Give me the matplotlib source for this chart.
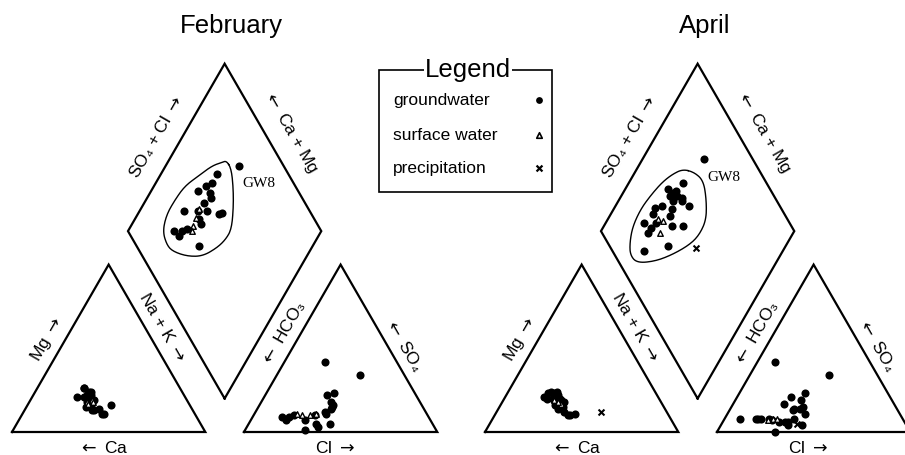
import numpy as np
import matplotlib.pyplot as plt
from matplotlib.patches import Rectangle

plt.rcParams['font.family'] = ['Liberation Sans', 'DejaVu Sans']
plt.rcParams['mathtext.fontset'] = 'dejavusans'

# Piper layout (unit triangle side = 1, drawn in pixel-like data coords)
R3 = np.sqrt(3) / 2
GAP = 0.2
SCALE = 193.3
BASE_Y = 432
ORIGIN_FEB = 12
ORIGIN_APR = 485

# ---- data, percent of meq ----
# February groundwater (first sample is GW8)
feb_gw_nak = [38, 29, 29, 27, 24, 31, 33, 31, 35, 23, 30, 42, 43, 36, 30, 28, 24, 28, 41, 33]
feb_gw_mg = [14, 24, 20, 21, 26, 17, 19, 15, 13, 21, 18, 11, 16, 13, 22, 24, 26, 22, 11, 16]
feb_gw_cl = [43, 21, 35, 32, 36, 36, 38, 37, 42, 28, 32, 38, 38, 37, 21, 19, 15, 18, 31, 35]
feb_gw_so4 = [34, 42, 23, 22, 12, 18, 15, 11, 5, 7, 10, 14, 16, 3, 10, 9, 9, 7, 1, 5]

feb_sw_nak = [30, 32, 31, 33]
feb_sw_mg = [18, 19, 17, 18]
feb_sw_cl = [32, 25, 29, 22]
feb_sw_so4 = [11, 10, 10, 11]

# April groundwater (first sample is GW8)
apr_gw_nak = [32, 28, 22, 29, 25, 28, 33, 38, 24, 21, 30, 22, 31, 20, 35, 41, 25, 25, 28, 39, 26, 32, 26, 27]
apr_gw_mg = [15, 19, 24, 20, 21, 16, 15, 10, 23, 23, 19, 20, 14, 21, 12, 11, 24, 20, 17, 10, 21, 18, 19, 22]
apr_gw_cl = [41, 34, 33, 36, 42, 33, 40, 34, 35, 29, 26, 25, 34, 17, 32, 36, 19, 16, 8, 30, 28, 37, 23, 9]
apr_gw_so4 = [34, 23, 14, 14, 4, 13, 11, 19, 4, 6, 17, 7, 6, 8, 6, 8, 8, 8, 8, 0, 21, 15, 8, 42]

apr_sw_nak = [26, 31, 29]
apr_sw_mg = [19, 17, 18]
apr_sw_cl = [25, 23, 27]
apr_sw_so4 = [8, 7, 8]

apr_pr_nak = [54]
apr_pr_mg = [12]
apr_pr_cl = [39]
apr_pr_so4 = [5]

# hand-drawn groundwater envelopes in the diamond: (Na+K %, SO4+Cl %)
feb_env_nak = [30, 35, 42, 48, 53, 53, 51, 46, 38, 29, 24, 18, 15, 15, 16, 20, 24, 28]
feb_env_scl = [72, 72, 67, 61, 54, 48, 41, 31, 23, 17, 16, 18, 25, 34, 43, 53, 63, 69]
apr_env_nak = [24, 31, 38, 45, 51, 52, 50, 44, 37, 28, 22, 18, 15, 14, 15, 17, 20]
apr_env_scl = [61, 66, 68, 64, 58, 50, 42, 30, 19, 9, 8, 12, 18, 27, 36, 46, 54]


def to_px(x, y, x0):
    return x0 + SCALE * np.asarray(x, float), BASE_Y - SCALE * np.asarray(y, float)


def cation_xy(nak, mg):
    nak, mg = np.asarray(nak) / 100, np.asarray(mg) / 100
    return nak + mg / 2, mg * R3


def anion_xy(cl, so4):
    cl, so4 = np.asarray(cl) / 100, np.asarray(so4) / 100
    return 1 + GAP + cl + so4 / 2, so4 * R3


def diamond_xy(nak, scl):
    a, b = np.asarray(nak) / 100, np.asarray(scl) / 100
    return 0.5 + GAP / 2 + (a + b) / 2, (1 + GAP) * R3 + (b - a) * R3


def chaikin(x, y, n=3):
    pts = np.column_stack([x, y])
    for _ in range(n):
        nxt = np.roll(pts, -1, axis=0)
        q = 0.75 * pts + 0.25 * nxt
        r = 0.25 * pts + 0.75 * nxt
        pts = np.empty((2 * len(q), 2))
        pts[0::2], pts[1::2] = q, r
    pts = np.vstack([pts, pts[:1]])
    return pts[:, 0], pts[:, 1]


def all_xy(nak, mg, cl, so4):
    scl = np.asarray(cl) + np.asarray(so4)
    return [cation_xy(nak, mg), anion_xy(cl, so4), diamond_xy(nak, scl)]


OUTLINES = [
    [(0, 0), (1, 0), (0.5, R3), (0, 0)],
    [(1 + GAP, 0), (2 + GAP, 0), (1.5 + GAP, R3), (1 + GAP, 0)],
    [(1 + GAP / 2, GAP * R3), (1.5 + GAP / 2, (1 + GAP) * R3),
     (1 + GAP / 2, (2 + GAP) * R3), (0.5 + GAP / 2, (1 + GAP) * R3),
     (1 + GAP / 2, GAP * R3)],
]

RA = r"$\rightarrow$"
LA = r"$\leftarrow$"
LABELS = [
    ("SO₄ + Cl " + RA, 0.744, 1.526, 60),
    (LA + " Ca + Mg", 1.441, 1.552, -60),
    ("Na + K " + RA, 0.780, 0.545, -60),
    (LA + " HCO₃", 1.400, 0.509, 60),
    ("Mg " + RA, 0.181, 0.478, 60),
    (LA + " SO₄", 2.030, 0.452, -60),
    (LA + " Ca", 0.470, -0.083, 0),
    ("Cl " + RA, 1.674, -0.083, 0),
]

DOT = dict(marker='o', s=34, color='black', linewidths=0, zorder=3)
TRI = dict(marker='^', s=16, facecolors='white', edgecolors='black', linewidths=1.0, zorder=4)
CROSS = dict(marker='x', s=18, color='black', linewidths=1.5, zorder=4)


def draw_piper(ax, x0, title, gw, sw, env, pr=None):
    for outline in OUTLINES:
        xs, ys = zip(*outline)
        px, py = to_px(xs, ys, x0)
        ax.plot(px, py, color='black', lw=1.6, solid_joinstyle='miter', zorder=2)

    for text, lx, ly, rot in LABELS:
        px, py = to_px(lx, ly, x0)
        ax.text(px, py, text, rotation=rot, ha='center', va='center',
                fontsize=12.5, rotation_mode='anchor')

    tx, ty = to_px(1.1 + GAP / 2 - 0.065, 2.10, x0)
    ax.text(tx, ty, title, ha='center', va='center', fontsize=18.5)

    ex, ey = diamond_xy(*env)
    ex, ey = chaikin(ex, ey)
    ax.plot(*to_px(ex, ey, x0), color='black', lw=1.0, zorder=2)

    for x, y in all_xy(*gw):
        ax.scatter(*to_px(x, y, x0), **DOT)
    for x, y in all_xy(*sw):
        ax.scatter(*to_px(x, y, x0), **TRI)
    if pr is not None:
        for x, y in all_xy(*pr):
            ax.scatter(*to_px(x, y, x0), **CROSS)

    # GW8 label
    gx, gy = diamond_xy(gw[0][0], gw[2][0] + gw[3][0])
    ax.annotate("GW8", to_px(gx, gy, x0), xytext=(14, -13), textcoords='offset points',
                ha='center', va='center', fontsize=11, family='Liberation Serif')


fig = plt.figure(figsize=(9.05, 4.55), dpi=100)
ax = fig.add_axes([0, 0, 1, 1])
ax.set_xlim(0, 905)
ax.set_ylim(455, 0)
ax.axis('off')

draw_piper(ax, ORIGIN_FEB, "February",
           (feb_gw_nak, feb_gw_mg, feb_gw_cl, feb_gw_so4),
           (feb_sw_nak, feb_sw_mg, feb_sw_cl, feb_sw_so4),
           (feb_env_nak, feb_env_scl))
draw_piper(ax, ORIGIN_APR, "April",
           (apr_gw_nak, apr_gw_mg, apr_gw_cl, apr_gw_so4),
           (apr_sw_nak, apr_sw_mg, apr_sw_cl, apr_sw_so4),
           (apr_env_nak, apr_env_scl),
           (apr_pr_nak, apr_pr_mg, apr_pr_cl, apr_pr_so4))

# legend box
ax.add_patch(Rectangle((379, 70), 173, 122, fill=False, lw=1.2, color='black'))
ax.text(468, 70, "Legend", ha='center', va='center', fontsize=18.5,
        bbox=dict(facecolor='white', edgecolor='none', pad=1))
legend_names = ["groundwater", "surface water", "precipitation"]
legend_y = [100, 135, 168]
legend_style = [dict(marker='o', s=24, color='black', linewidths=0),
                dict(marker='^', s=16, facecolors='white', edgecolors='black', linewidths=1.2),
                dict(marker='x', s=18, color='black', linewidths=1.6)]
for name, y, style in zip(legend_names, legend_y, legend_style):
    ax.text(393, y, name, ha='left', va='center', fontsize=12.5)
    ax.scatter([539], [y], **style)

fig.savefig("out.png", dpi=100)
